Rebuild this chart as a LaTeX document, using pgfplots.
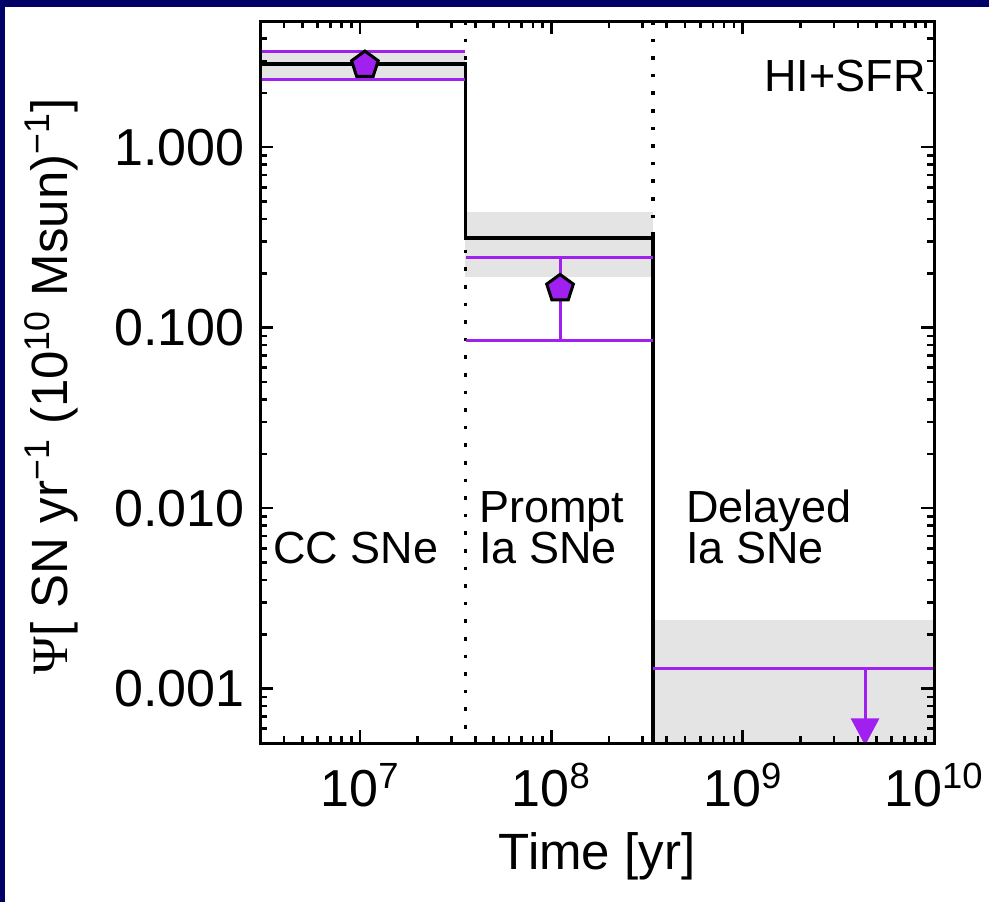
\documentclass[border=0pt]{standalone}
\usepackage{fontspec}
\setmainfont{Liberation Sans}
\newfontfamily\psifont{Liberation Serif}
\usepackage{pgfplots}
\pgfplotsset{compat=1.18}
\usetikzlibrary{arrows.meta}
\definecolor{idlpurple}{RGB}{160,32,240}
\definecolor{bandgray}{RGB}{228,228,228}
\definecolor{navybg}{RGB}{0,0,102}
\newcommand\annfont{\fontsize{22.5}{22.5}\selectfont}
\begin{document}
\begin{tikzpicture}
\fill[navybg] (0,0) rectangle (494.5pt,451pt);
\fill[white] (2.5pt,0) rectangle (494.5pt,447.5pt);
\begin{axis}[
  at={(130pt,79.5pt)}, anchor=south west,
  scale only axis, width=337pt, height=361pt,
  xmode=log, ymode=log,
  xmin=3e6, xmax=1e10, ymin=5e-4, ymax=5,
  clip=false,
  axis on top,
  axis line style={line width=1.5pt},
  tick align=inside, tick pos=both,
  major tick length=6.5pt, minor tick length=3.3pt,
  every tick/.style={black, line width=1.3pt},
  /pgf/number format/assume math mode=true,
  xtick={1e7,1e8,1e9,1e10},
  xticklabels={10\textsuperscript{7},10\textsuperscript{8},10\textsuperscript{9},10\textsuperscript{10}},
  minor xtick={4e6,5e6,6e6,7e6,8e6,9e6,2e7,3e7,4e7,5e7,6e7,7e7,8e7,9e7,2e8,3e8,4e8,5e8,6e8,7e8,8e8,9e8,2e9,3e9,4e9,5e9,6e9,7e9,8e9,9e9},
  ytick={1e-3,1e-2,1e-1,1},
  yticklabels={0.001,0.010,0.100,1.000},
  minor ytick={6e-4,7e-4,8e-4,9e-4,2e-3,3e-3,4e-3,5e-3,6e-3,7e-3,8e-3,9e-3,2e-2,3e-2,4e-2,5e-2,6e-2,7e-2,8e-2,9e-2,0.2,0.3,0.4,0.5,0.6,0.7,0.8,0.9,2,3,4},
  xticklabel style={font=\fontsize{26}{26}\selectfont, inner sep=0pt, yshift=-10pt},
  yticklabel style={font=\fontsize{26}{26}\selectfont, inner sep=0pt, xshift=-7.5pt},
  xlabel={Time [yr]},
  xlabel style={at={(axis description cs:0.5,0)}, anchor=north, inner sep=0pt, yshift=-44.5pt, font=\fontsize{25.5}{25.5}\selectfont},
  ylabel={{\psifont Ψ}[ SN yr\textsuperscript{−1} (10\textsuperscript{10} Msun)\textsuperscript{−1}]},
  ylabel style={at={(axis description cs:-0.2849,0.494)}, anchor=base, inner sep=0pt, font=\fontsize{25.5}{25.5}\selectfont},
]
% shaded uncertainty bands
\addplot[fill=bandgray, draw=none] coordinates {(3e6,2.36) (3.55e7,2.36) (3.55e7,3.32) (3e6,3.32)} -- cycle;
\addplot[fill=bandgray, draw=none] coordinates {(3.55e7,0.19) (3.4e8,0.19) (3.4e8,0.44) (3.55e7,0.44)} -- cycle;
\addplot[fill=bandgray, draw=none] coordinates {(3.4e8,5e-4) (1e10,5e-4) (1e10,0.00239) (3.4e8,0.00239)} -- cycle;
% dotted bin boundaries
\addplot[black, line width=1.6pt, dash pattern=on 1.8pt off 7pt] coordinates {(3.55e7,5) (3.55e7,5e-4)};
\addplot[black, line width=1.6pt, dash pattern=on 1.8pt off 7pt] coordinates {(3.4e8,5) (3.4e8,5e-4)};
% black step
\addplot[black, line width=1.8pt] coordinates {(3e6,2.88) (3.55e7,2.88) (3.55e7,0.313) (3.4e8,0.313) (3.4e8,5e-4)};
% purple error ranges
\addplot[idlpurple, line width=1.5pt] coordinates {(3e6,3.38) (3.55e7,3.38)};
\addplot[idlpurple, line width=1.5pt] coordinates {(3e6,2.36) (3.55e7,2.36)};
\addplot[idlpurple, line width=1.5pt] coordinates {(1.06e7,2.36) (1.06e7,3.38)};
\addplot[idlpurple, line width=1.5pt] coordinates {(3.6e7,0.245) (3.4e8,0.245)};
\addplot[idlpurple, line width=1.5pt] coordinates {(3.6e7,0.085) (3.4e8,0.085)};
\addplot[idlpurple, line width=1.5pt] coordinates {(1.11e8,0.085) (1.11e8,0.245)};
\addplot[idlpurple, line width=1.5pt] coordinates {(3.4e8,0.0013) (1e10,0.0013)};
\addplot[idlpurple, line width=1.5pt, -{Triangle[width=14pt,length=13.5pt]}] coordinates {(4.36e9,0.0013) (4.36e9,4.85e-4)};
% measured points
\addplot[only marks, mark=pentagon*, mark size=7pt, mark options={fill=idlpurple, draw=black, line width=1.5pt}] coordinates {(1.06e7,2.85) (1.11e8,0.165)};
% annotations
\node[anchor=base east, inner sep=0pt, font=\annfont] at (rel axis cs:0.988,0.9017) {HI+SFR};
\node[anchor=base west, inner sep=0pt, font=\annfont] at (rel axis cs:0.019,0.2493) {CC SNe};
\node[anchor=base west, inner sep=0pt, font=\annfont] at (rel axis cs:0.325,0.3061) {Prompt};
\node[anchor=base west, inner sep=0pt, font=\annfont] at (rel axis cs:0.325,0.2493) {Ia SNe};
\node[anchor=base west, inner sep=0pt, font=\annfont] at (rel axis cs:0.632,0.3061) {Delayed};
\node[anchor=base west, inner sep=0pt, font=\annfont] at (rel axis cs:0.632,0.2493) {Ia SNe};
\end{axis}
\pgfresetboundingbox
\useasboundingbox (0,0) rectangle (494.5pt,451pt);
\end{tikzpicture}
\end{document}
